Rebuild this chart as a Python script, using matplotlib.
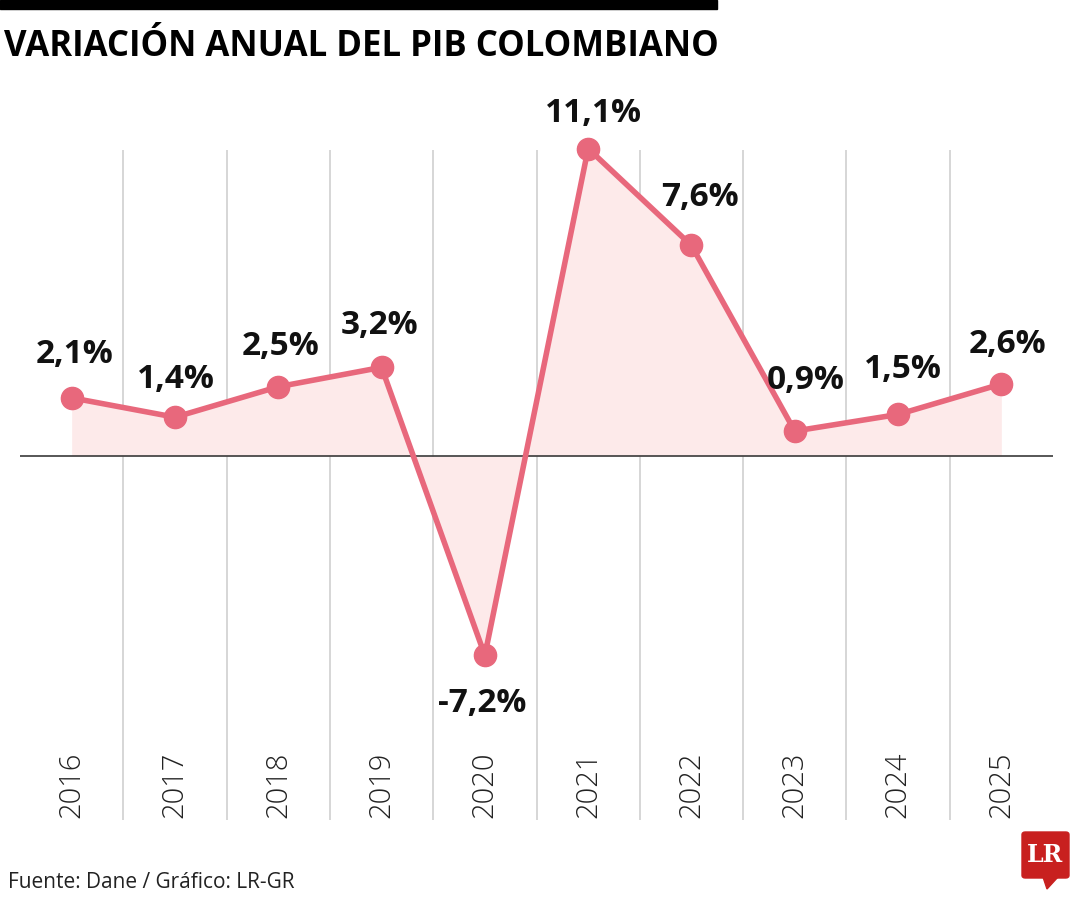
import numpy as np
import matplotlib.pyplot as plt
import matplotlib.transforms as mtransforms
from matplotlib.patches import Rectangle, Polygon, FancyBboxPatch

years = ['2016', '2017', '2018', '2019', '2020', '2021', '2022', '2023', '2024', '2025']
growth = [2.1, 1.4, 2.5, 3.2, -7.2, 11.1, 7.6, 0.9, 1.5, 2.6]
value_labels = ['2,1%', '1,4%', '2,5%', '3,2%', '-7,2%', '11,1%', '7,6%', '0,9%', '1,5%', '2,6%']

# label offsets in pixels (dx, dy) relative to each point
label_offsets = [(3, 43), (1, 38), (2, 40), (-2, 42), (-3, -48),
                 (5, 35), (8, 48), (11, 51), (5, 45), (6, 39)]

line_color = '#e8687c'
fill_color = '#fdeaea'

W, H = 1080, 900
fig = plt.figure(figsize=(W / 100, H / 100), dpi=100)
fig.patch.set_facecolor('white')

# axes box in pixel terms
left, right, top, bottom = 20, 1053, 150, 820
ax = fig.add_axes([left / W, 1 - bottom / H, (right - left) / W, (bottom - top) / H])
px_per_unit = 27.7
zero_px = 456
ax.set_ylim(-(bottom - zero_px) / px_per_unit, (zero_px - top) / px_per_unit)
ax.set_xlim(-0.5, len(years) - 0.5)
for s in ax.spines.values():
    s.set_visible(False)
ax.set_xticks([])
ax.set_yticks([])

x = np.arange(len(years))

for i in range(len(years) - 1):
    ax.axvline(i + 0.5, color='#cccccc', lw=1.1, zorder=0)
ax.axhline(0, color='#3a3a3a', lw=1.2, zorder=2)

ax.fill_between(x, growth, 0, color=fill_color, lw=0, zorder=1)
ax.plot(x, growth, color=line_color, lw=4, marker='o', ms=16,
        zorder=3, clip_on=False)

for xi, v, lab, (dx, dy) in zip(x, growth, value_labels, label_offsets):
    ax.annotate(lab, (xi, v), xytext=(dx, dy), textcoords='offset pixels',
                ha='center', va='center', fontsize=24, fontweight='bold',
                family='Open Sans', color='#111111', zorder=4,
                annotation_clip=False)

trans = mtransforms.blended_transform_factory(ax.transData, ax.transAxes)
for xi, yr in zip(x, years):
    ax.text(xi, (bottom - 785) / (bottom - top), yr, transform=trans,
            rotation=90, ha='center', va='center', fontsize=21,
            family='Open Sans', fontweight='light', color='#222222')

# top black bar and title
fig.add_artist(Rectangle((0, 1 - 9 / H), 717 / W, 9 / H,
                         transform=fig.transFigure, color='black'))
fig.text(4 / W, 1 - 47 / H, 'VARIACIÓN ANUAL DEL PIB COLOMBIANO',
         fontsize=25, fontweight='bold', family='Open Sans',
         ha='left', va='center', color='black')

fig.text(8 / W, 1 - 882 / H, 'Fuente: Dane / Gráfico: LR-GR',
         fontsize=15, family='Open Sans', ha='left', va='center',
         color='#222222')

# LR logo
logo_red = '#c8201f'
fig.add_artist(FancyBboxPatch((1022 / W, 1 - 878 / H), 47 / W, 46 / H,
                              boxstyle='round,pad=0,rounding_size=0.003',
                              transform=fig.transFigure, color=logo_red))
fig.add_artist(Polygon([(1043 / W, 1 - 877 / H), (1058 / W, 1 - 877 / H),
                        (1047 / W, 1 - 889 / H)],
                       closed=True, transform=fig.transFigure, color=logo_red))
fig.text(1045.5 / W, 1 - 855 / H, 'LR', fontsize=17, fontweight='bold',
         family='DejaVu Serif', color='white', ha='center', va='center')

fig.savefig('out.png', dpi=100)
